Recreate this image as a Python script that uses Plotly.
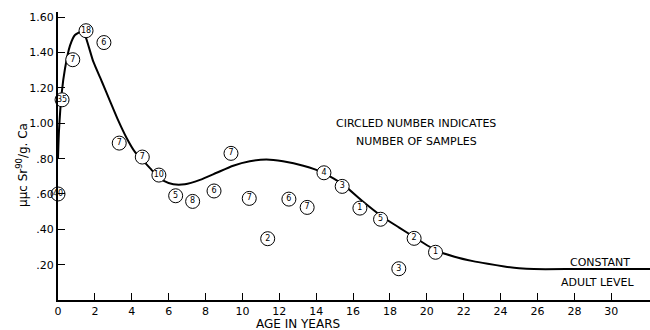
import plotly.graph_objects as go

# Circled data points: age (years), value (uuc Sr90 / g Ca), number of samples
pt_age = [0, 0.22, 0.8, 1.52, 2.49, 3.32, 4.57, 5.47, 6.38, 7.3, 8.46, 9.38, 10.37,
          11.37, 12.52, 13.51, 14.42, 15.41, 16.37, 17.49, 18.48, 19.31, 20.47]
pt_val = [0.60, 1.133, 1.36, 1.524, 1.457, 0.888, 0.809, 0.707, 0.59, 0.558, 0.617, 0.83, 0.575,
          0.347, 0.571, 0.524, 0.72, 0.643, 0.52, 0.457, 0.177, 0.349, 0.27]
pt_n = ["40", "35", "7", "18", "6", "7", "7", "10", "5", "8", "6", "7", "7",
        "2", "6", "7", "4", "3", "1", "5", "3", "2", "1"]

# Smooth fitted curve
curve_age = [0, 0.05, 0.2, 0.38, 0.65, 0.92, 1.28, 1.46, 1.91, 2.37, 2.82, 3.27, 3.72,
             4.17, 4.6, 5.0, 5.35, 5.71, 6.25, 6.88, 7.7, 8.6, 9.5, 10.4, 11.3, 12.2, 13.3,
             14.4, 15.5, 16.5, 17.6, 18.5, 19.25, 20.5, 21.5, 22.5, 23.3, 24.2, 25.0,
             25.8, 28, 30, 32.1]
curve_val = [0.80, 0.95, 1.17, 1.31, 1.44, 1.50, 1.52, 1.50, 1.35, 1.238, 1.126, 1.015, 0.917,
             0.838, 0.79, 0.745, 0.705, 0.675, 0.655, 0.655, 0.68, 0.72, 0.76, 0.785, 0.795,
             0.785, 0.76, 0.72, 0.65, 0.56, 0.47, 0.41, 0.36, 0.28, 0.245, 0.22, 0.205, 0.19,
             0.18, 0.175, 0.175, 0.175, 0.175]

x_ticks = list(range(0, 31, 2))
y_ticks = [0.2, 0.4, 0.6, 0.8, 1.0, 1.2, 1.4, 1.6]
y_tick_text = [".20", ".40", ".60", ".80", "1.00", "1.20", "1.40", "1.60"]

FONT = "DejaVu Sans"

fig = go.Figure()
fig.add_trace(go.Scatter(
    x=curve_age, y=curve_val, mode="lines",
    line=dict(color="black", width=2, shape="spline", smoothing=0.5),
    hoverinfo="skip", cliponaxis=False))
fig.add_trace(go.Scatter(
    x=pt_age, y=pt_val, mode="markers+text", text=pt_n,
    textposition="middle center",
    textfont=dict(family=FONT, size=8, color="black"),
    marker=dict(size=14, color="white", line=dict(color="black", width=1)),
    cliponaxis=False))

fig.update_layout(
    width=650, height=330,
    margin=dict(l=58, r=0, t=12, b=30),
    plot_bgcolor="white", paper_bgcolor="white",
    showlegend=False,
    font=dict(family=FONT, color="black", size=11),
    xaxis=dict(range=[0, 32.1], tickvals=x_ticks, ticktext=[str(v) for v in x_ticks],
               ticks="inside", ticklen=7, tickwidth=1.2, tickcolor="black",
               showline=True, linecolor="black", linewidth=2, showgrid=False,
               zeroline=False, tickfont=dict(size=11)),
    yaxis=dict(range=[0, 1.63], tickvals=y_ticks, ticktext=y_tick_text,
               ticks="inside", ticklen=7, tickwidth=1.2, tickcolor="black",
               showline=True, linecolor="black", linewidth=2, showgrid=False,
               zeroline=False, tickfont=dict(size=11)),
    annotations=[
        dict(x=0.605, y=(300 - 124) / 288, xref="paper", yref="paper",
             text="CIRCLED NUMBER INDICATES", showarrow=False,
             font=dict(size=11), xanchor="center", yanchor="middle"),
        dict(x=0.605, y=(300 - 141) / 288, xref="paper", yref="paper",
             text="NUMBER OF SAMPLES", showarrow=False,
             font=dict(size=11), xanchor="center", yanchor="middle"),
        dict(x=(600 - 58) / 592, y=(300 - 262) / 288, xref="paper", yref="paper",
             text="CONSTANT", showarrow=False,
             font=dict(size=11), xanchor="center", yanchor="middle"),
        dict(x=(597 - 58) / 592, y=(300 - 282) / 288, xref="paper", yref="paper",
             text="ADULT LEVEL", showarrow=False,
             font=dict(size=11), xanchor="center", yanchor="middle"),
        dict(x=(298 - 58) / 592, y=(300 - 324) / 288, xref="paper", yref="paper",
             text="AGE IN YEARS", showarrow=False,
             font=dict(size=12), xanchor="center", yanchor="middle"),
        dict(x=-(58 - 22) / 592, y=(300 - 165) / 288, xref="paper", yref="paper",
             text="μμc Sr<sup>90</sup>/g. Ca", showarrow=False, textangle=-90,
             font=dict(size=12), xanchor="center", yanchor="middle"),
    ],
)

fig.write_html("out.html")
